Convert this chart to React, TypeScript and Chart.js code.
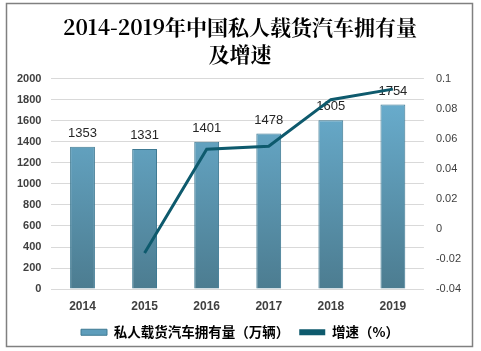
import React, { useEffect, useRef } from "react";
import { Chart, registerables } from "chart.js";

Chart.register(...registerables);

const titleLines = ["2014-2019年中国私人载货汽车拥有量", "及增速"];
const years = ["2014", "2015", "2016", "2017", "2018", "2019"];
const ownership = [1353, 1331, 1401, 1478, 1605, 1754];
const growth = [null, -0.016, 0.053, 0.055, 0.086, 0.093];
const barLabel = "私人载货汽车拥有量（万辆）";
const lineLabel = "增速（%）";

const borderPlugin = {
  id: "outerBorder",
  beforeDraw(chart: any) {
    const ctx = chart.ctx;
    ctx.save();
    ctx.fillStyle = "#ffffff";
    ctx.fillRect(0, 0, chart.width, chart.height);
    ctx.strokeStyle = "#808080";
    ctx.lineWidth = 1.5;
    ctx.strokeRect(6.5, 3.5, 466, 343);
    ctx.restore();
  },
};

const labelPlugin = {
  id: "barLabels",
  afterDatasetDraw(chart: any, args: any) {
    if (args.index !== 0) return;
    const ctx = chart.ctx;
    const meta = chart.getDatasetMeta(0);
    ctx.save();
    ctx.fillStyle = "#262626";
    ctx.font = "13px 'Liberation Sans', Arial, sans-serif";
    ctx.textAlign = "center";
    ctx.textBaseline = "bottom";
    meta.data.forEach((el: any, i: number) => {
      ctx.fillText(String(ownership[i]), el.x, el.y - 7);
    });
    ctx.restore();
  },
};

export default function App() {
  const ref = useRef<HTMLCanvasElement>(null);
  useEffect(() => {
    document.body.style.margin = "0";
    const canvas = ref.current!;
    const chart = new Chart(canvas, {
      type: "bar",
      data: {
        labels: years,
        datasets: [
          {
            type: "bar",
            label: barLabel,
            data: ownership,
            yAxisID: "y",
            order: 1,
            barPercentage: 0.4,
            categoryPercentage: 1,
            borderWidth: 1,
            borderColor: "#3f7a93",
            backgroundColor: (c: any) => {
              const area = c.chart.chartArea;
              if (!area) return "#5e9dbb";
              const g = c.chart.ctx.createLinearGradient(0, area.top, 0, area.bottom);
              g.addColorStop(0, "#6cb2d4");
              g.addColorStop(1, "#4c7c90");
              return g;
            },
          },
          {
            type: "line",
            label: lineLabel,
            data: growth,
            yAxisID: "y1",
            order: 0,
            borderColor: "#0e5a6d",
            backgroundColor: "#0e5a6d",
            borderWidth: 3,
            pointRadius: 0,
            tension: 0,
          },
        ] as any,
      },
      options: {
        responsive: false,
        animation: false,
        layout: { padding: { left: 7, right: 8, top: 0, bottom: 2 } },
        plugins: {
          title: {
            display: true,
            text: titleLines,
            color: "#000000",
            font: { family: "'Noto Serif CJK SC', 'Liberation Serif', serif", size: 21, weight: "bold", lineHeight: 1.3 },
            padding: { top: 13, bottom: 11 },
          },
          legend: {
            position: "bottom",
            labels: {
              boxWidth: 26,
              boxHeight: 6,
              padding: 10,
              color: "#262626",
              font: { family: "'Noto Sans CJK SC', sans-serif", size: 13.5, weight: "bold" },
              generateLabels: () => [
                {
                  text: barLabel,
                  fillStyle: "#5e9dbb",
                  strokeStyle: "#3f7a93",
                  lineWidth: 1,
                  datasetIndex: 0,
                },
                {
                  text: lineLabel,
                  fillStyle: "#0e5a6d",
                  strokeStyle: "#0e5a6d",
                  lineWidth: 0,
                  datasetIndex: 1,
                },
              ],
            },
          },
          tooltip: { enabled: false },
        },
        scales: {
          x: {
            grid: { display: false },
            border: { display: false },
            ticks: {
              color: "#404040",
              font: { family: "'Liberation Sans', Arial, sans-serif", size: 12, weight: "bold" },
              padding: 2,
            },
          },
          y: {
            position: "left",
            min: 0,
            max: 2000,
            ticks: {
              stepSize: 200,
              color: "#404040",
              font: { family: "'Liberation Sans', Arial, sans-serif", size: 11, weight: "bold" },
              padding: 10,
              callback: (v: any) => String(v),
            },
            grid: { color: "#d9d9d9", drawTicks: false },
            border: { display: false },
          },
          y1: {
            position: "right",
            min: -0.04,
            max: 0.1,
            ticks: {
              stepSize: 0.02,
              color: "#404040",
              font: { family: "'Liberation Sans', Arial, sans-serif", size: 11 },
              padding: 12,
              callback: (v: any) => String(Number(Number(v).toFixed(2))),
            },
            grid: { display: false, drawTicks: false },
            border: { display: false },
          },
        },
      },
      plugins: [borderPlugin, labelPlugin],
    } as any);
    return () => chart.destroy();
  }, []);
  return (
    <div style={{ width: 481, height: 351 }}>
      <canvas ref={ref} width={481} height={351} style={{ display: "block" }} />
    </div>
  );
}
